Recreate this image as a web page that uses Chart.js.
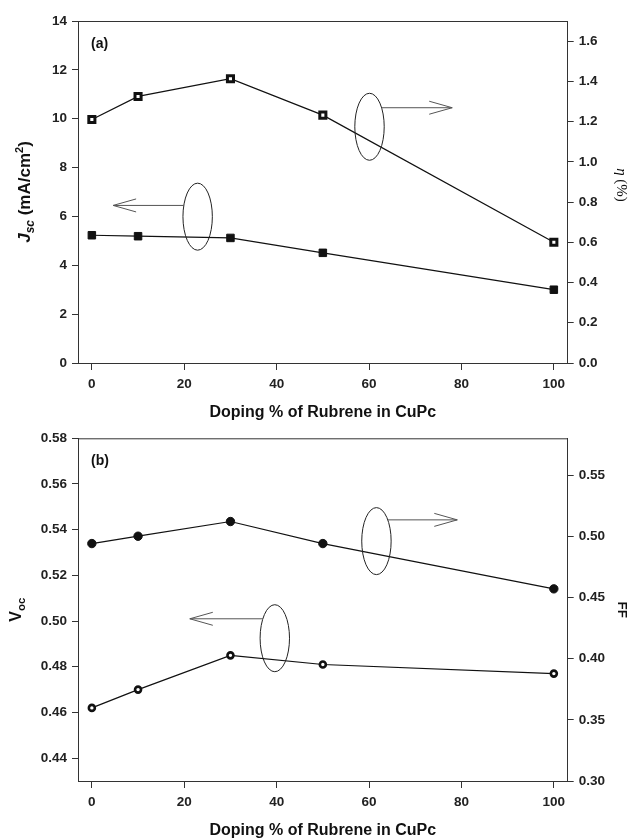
<!DOCTYPE html>
<html>
<head>
<meta charset="utf-8">
<script src="https://cdn.jsdelivr.net/npm/chart.js@4"></script>
<style>
  html, body { margin: 0; padding: 0; background: #fff; }
  canvas { display: block; }
</style>
</head>
<body>
<canvas id="chartA" width="631" height="420"></canvas>
<canvas id="chartB" width="631" height="418"></canvas>
<script>
// doping % of rubrene in CuPc
const doping = [0, 10, 30, 50, 100];
// panel (a)
const jsc = [5.23, 5.19, 5.12, 4.51, 3.00];
const eta = [1.210, 1.325, 1.413, 1.232, 0.600];
// panel (b)
const voc = [0.462, 0.470, 0.485, 0.481, 0.477];
const ff = [0.494, 0.500, 0.512, 0.494, 0.457];

const xTicks = [0, 20, 40, 60, 80, 100];
const jscTicks = [0, 2, 4, 6, 8, 10, 12, 14];
const etaTicks = [0, 0.2, 0.4, 0.6, 0.8, 1.0, 1.2, 1.4, 1.6];
const vocTicks = [0.44, 0.46, 0.48, 0.50, 0.52, 0.54, 0.56, 0.58];
const ffTicks = [0.30, 0.35, 0.40, 0.45, 0.50, 0.55];

// ellipse + arrow markers, in data units (x, left axis)
const notesA = [
  { cx: 22.9, cy: 5.99, tipX: 4.6, tipY: 6.45 },
  { cx: 60.1, cy: 9.67, tipX: 78.0, tipY: 10.45 }
];
const notesB = [
  { cx: 39.6, cy: 0.4925, tipX: 21.2, tipY: 0.501 },
  { cx: 61.6, cy: 0.535, tipX: 79.1, tipY: 0.5443 }
];

const SANS = '"Liberation Sans", Arial, sans-serif';
const SERIF = '"Liberation Serif", "Times New Roman", serif';
const INK = '#111';
const AXIS = '#333';

function drawRich(ctx, parts, x, y, angle) {
  ctx.save();
  ctx.translate(x, y);
  ctx.rotate(angle);
  ctx.textAlign = 'left';
  ctx.textBaseline = 'alphabetic';
  let w = 0;
  parts.forEach(p => { ctx.font = p.font; w += ctx.measureText(p.t).width; });
  let pos = -w / 2;
  parts.forEach(p => {
    ctx.font = p.font;
    ctx.fillText(p.t, pos, p.dy || 0);
    pos += ctx.measureText(p.t).width;
  });
  ctx.restore();
}

const figurePlugin = {
  id: 'figure',
  afterDraw(chart, args, opts) {
    const { ctx, chartArea: a, scales } = chart;
    const sx = scales.x, sy = scales.y;
    const midY = (a.top + a.bottom) / 2;
    ctx.save();
    // top frame line
    ctx.strokeStyle = AXIS;
    ctx.lineWidth = 1;
    ctx.beginPath();
    ctx.moveTo(a.left, a.top + 0.5);
    ctx.lineTo(a.right, a.top + 0.5);
    ctx.stroke();

    ctx.fillStyle = INK;
    ctx.font = 'bold 14px ' + SANS;
    ctx.textBaseline = 'middle';
    ctx.textAlign = 'left';
    ctx.fillText(opts.panel, a.left + 13, a.top + 23);

    ctx.font = 'bold 16px ' + SANS;
    ctx.textAlign = 'center';
    ctx.fillText(opts.xTitle, (a.left + a.right) / 2, a.bottom + 49.5);

    drawRich(ctx, opts.leftTitle, opts.leftX, midY, -Math.PI / 2);
    drawRich(ctx, opts.rightTitle, opts.rightX, midY + (opts.rightShift || 0), Math.PI / 2);

    // ellipses with arrows
    const rx = 14.7, ry = 33.5;
    opts.notes.forEach(n => {
      const px = sx.getPixelForValue(n.cx), py = sy.getPixelForValue(n.cy);
      const tx = sx.getPixelForValue(n.tipX), ty = sy.getPixelForValue(n.tipY);
      ctx.strokeStyle = '#222';
      ctx.lineWidth = 1;
      ctx.beginPath();
      ctx.ellipse(px, py, rx, ry, 0, 0, Math.PI * 2);
      ctx.stroke();
      const dir = Math.sign(tx - px);
      const k = Math.sqrt(Math.max(0, 1 - Math.pow((ty - py) / ry, 2)));
      const startX = px + dir * rx * k;
      ctx.strokeStyle = '#555';
      ctx.beginPath();
      ctx.moveTo(startX, ty);
      ctx.lineTo(tx, ty);
      ctx.moveTo(tx - dir * 23, ty - 6.5);
      ctx.lineTo(tx, ty);
      ctx.lineTo(tx - dir * 23, ty + 6.5);
      ctx.stroke();
    });
    ctx.restore();
  }
};

function tickSet(values) {
  return s => { s.ticks = values.map(v => ({ value: v })); };
}

function axisBase(pos, width, ticks, min, max, digits) {
  return {
    type: 'linear',
    position: pos,
    min: min,
    max: max,
    afterBuildTicks: tickSet(ticks),
    afterFit: s => { s.width = width; },
    border: { color: AXIS, width: 1 },
    grid: { drawOnChartArea: false, drawTicks: true, tickLength: 6, color: AXIS },
    ticks: {
      padding: 5,
      color: '#222',
      font: { family: SANS, size: 13.5, weight: 'bold' },
      callback: v => digits ? Number(v).toFixed(digits) : String(v)
    }
  };
}

function makeChart(id, left, right, cfg) {
  const pts = arr => doping.map((d, i) => ({ x: d, y: arr[i] }));
  new Chart(document.getElementById(id), {
    type: 'line',
    data: {
      datasets: [
        Object.assign({
          data: pts(left.values), yAxisID: 'y',
          borderColor: INK, borderWidth: 1.2, tension: 0
        }, left.style),
        Object.assign({
          data: pts(right.values), yAxisID: 'y1',
          borderColor: INK, borderWidth: 1.2, tension: 0
        }, right.style)
      ]
    },
    options: {
      responsive: false,
      animation: false,
      layout: { padding: { top: cfg.top, left: 0, right: 0, bottom: 0 } },
      plugins: {
        legend: { display: false },
        tooltip: { enabled: false },
        figure: cfg.figure
      },
      scales: {
        x: {
          type: 'linear',
          min: -3,
          max: 103,
          afterBuildTicks: tickSet(xTicks),
          afterFit: s => { s.height = 57; },
          border: { color: AXIS, width: 1 },
          grid: { drawOnChartArea: false, drawTicks: true, tickLength: 7, color: AXIS },
          ticks: {
            padding: 6,
            color: '#222',
            font: { family: SANS, size: 13.5, weight: 'bold' }
          }
        },
        y: axisBase('left', 78, left.ticks, left.min, left.max, left.digits),
        y1: axisBase('right', 63.3, right.ticks, right.min, right.max, right.digits)
      }
    },
    plugins: [figurePlugin]
  });
}

const filledSquare = { pointStyle: 'rect', pointRadius: 5.3, pointBorderWidth: 1, pointBackgroundColor: INK, pointBorderColor: INK };
const openSquare = { pointStyle: 'rect', pointRadius: 4.3, pointBorderWidth: 3, pointBackgroundColor: '#fff', pointBorderColor: INK };
const filledCircle = { pointStyle: 'circle', pointRadius: 4.2, pointBorderWidth: 1, pointBackgroundColor: INK, pointBorderColor: INK };
const openCircle = { pointStyle: 'circle', pointRadius: 3, pointBorderWidth: 2.6, pointBackgroundColor: '#fff', pointBorderColor: INK };

makeChart('chartA',
  { values: jsc, ticks: jscTicks, min: 0, max: 14, digits: 0, style: filledSquare },
  { values: eta, ticks: etaTicks, min: 0, max: 1.7, digits: 1, style: openSquare },
  {
    top: 21,
    figure: {
      panel: '(a)',
      xTitle: 'Doping % of Rubrene in CuPc',
      leftX: 30,
      leftTitle: [
        { t: 'J', font: 'italic bold 17px ' + SANS },
        { t: 'sc', font: 'italic bold 12px ' + SANS, dy: 4 },
        { t: ' (mA/cm', font: 'bold 17px ' + SANS },
        { t: '2', font: 'bold 11px ' + SANS, dy: -7 },
        { t: ')', font: 'bold 17px ' + SANS }
      ],
      rightX: 617,
      rightShift: -7,
      rightTitle: [
        { t: 'η', font: 'italic 15px ' + SERIF },
        { t: ' (%)', font: '15px ' + SERIF }
      ],
      notes: notesA
    }
  });

makeChart('chartB',
  { values: voc, ticks: vocTicks, min: 0.43, max: 0.58, digits: 2, style: openCircle },
  { values: ff, ticks: ffTicks, min: 0.30, max: 0.58, digits: 2, style: filledCircle },
  {
    top: 18.3,
    figure: {
      panel: '(b)',
      xTitle: 'Doping % of Rubrene in CuPc',
      leftX: 21,
      leftTitle: [
        { t: 'V', font: 'bold 16px ' + SANS },
        { t: 'oc', font: 'bold 11.5px ' + SANS, dy: 4 }
      ],
      rightX: 618,
      rightShift: 0,
      rightTitle: [
        { t: 'FF', font: 'bold 13.5px ' + SANS }
      ],
      notes: notesB
    }
  });
</script>
</body>
</html>
